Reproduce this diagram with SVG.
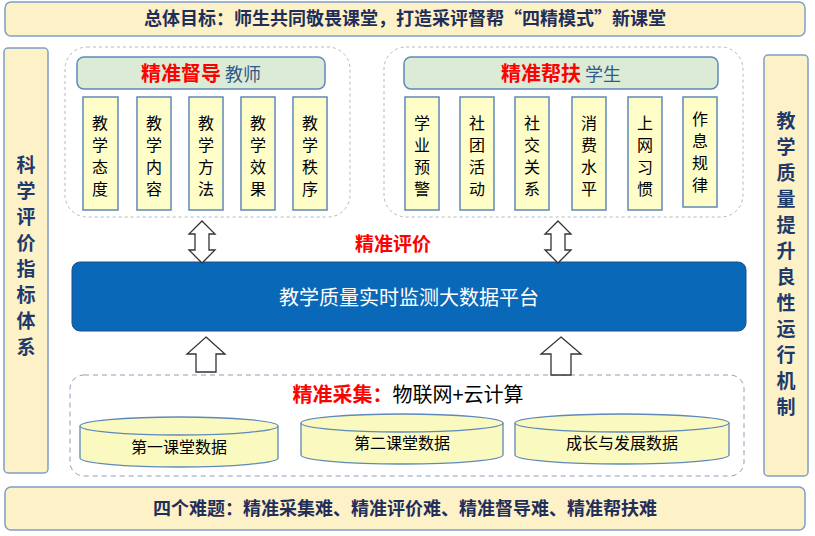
<svg xmlns="http://www.w3.org/2000/svg" width="815" height="536" viewBox="0 0 815 536">
<style>
text{font-family:"Noto Sans CJK SC","Liberation Sans",sans-serif}
.ban{fill:#fdf1c8;stroke:#7f9fc6;stroke-width:1.5}
.bt{font-size:18px;font-weight:bold;fill:#1f2f5a}
.side{font-size:19px;font-weight:bold;fill:#1f3a6a}
.grp{fill:#fff;stroke:#b8b8b8;stroke-dasharray:3,3}
.hd{fill:#dcebd6;stroke:#5f89b8;stroke-width:1.5}
.it{fill:#fffdc8;stroke:#5f89b8;stroke-width:1.5}
.itx{font-size:16px;fill:#000}
.red{fill:#ff0000;font-weight:bold}
.arr{fill:#fff;stroke:#333;stroke-width:1.3}
.cyl{fill:#fafac0;stroke:#5f89b8;stroke-width:1.3}
</style>
<g id="top"><rect class="ban" x="5" y="2" width="800" height="34" rx="6"/><text class="bt" x="405" y="25" text-anchor="middle">总体目标：师生共同敬畏课堂，打造采评督帮“四精模式”新课堂</text></g>
<g id="bottom"><rect class="ban" x="5" y="487" width="800" height="43" rx="6"/><text class="bt" x="405" y="515" text-anchor="middle">四个难题：精准采集难、精准评价难、精准督导难、精准帮扶难</text></g>
<g id="left"><rect class="ban" x="4" y="48" width="44" height="425" rx="4"/>
<text class="side" x="26" text-anchor="middle"><tspan x="26" y="172">科</tspan><tspan x="26" y="198">学</tspan><tspan x="26" y="224">评</tspan><tspan x="26" y="250">价</tspan><tspan x="26" y="276">指</tspan><tspan x="26" y="302">标</tspan><tspan x="26" y="328">体</tspan><tspan x="26" y="354">系</tspan></text></g>
<g id="right"><rect class="ban" x="764" y="55" width="44" height="421" rx="4"/>
<text class="side" x="786" text-anchor="middle"><tspan x="786" y="128">教</tspan><tspan x="786" y="154">学</tspan><tspan x="786" y="180">质</tspan><tspan x="786" y="206">量</tspan><tspan x="786" y="232">提</tspan><tspan x="786" y="258">升</tspan><tspan x="786" y="284">良</tspan><tspan x="786" y="310">性</tspan><tspan x="786" y="336">运</tspan><tspan x="786" y="362">行</tspan><tspan x="786" y="388">机</tspan><tspan x="786" y="414">制</tspan></text></g>
<g id="supervise">
<rect class="grp" x="65" y="47" width="285" height="170" rx="22"/>
<rect class="hd" x="77" y="57" width="248" height="32" rx="7"/>
<text x="201" y="81" text-anchor="middle" font-size="20"><tspan class="red">精准督导</tspan><tspan fill="#2f5a8a" font-size="18"> 教师</tspan></text>
<rect class="it" x="83" y="97" width="35" height="113"/><rect class="it" x="137" y="97" width="34" height="113"/><rect class="it" x="189" y="97" width="34" height="113"/><rect class="it" x="241" y="97" width="34" height="113"/><rect class="it" x="293" y="97" width="34" height="113"/>
<text class="itx" text-anchor="middle"><tspan x="100" y="129">教</tspan><tspan x="100" y="151">学</tspan><tspan x="100" y="173">态</tspan><tspan x="100" y="195">度</tspan></text>
<text class="itx" text-anchor="middle"><tspan x="154" y="129">教</tspan><tspan x="154" y="151">学</tspan><tspan x="154" y="173">内</tspan><tspan x="154" y="195">容</tspan></text>
<text class="itx" text-anchor="middle"><tspan x="206" y="129">教</tspan><tspan x="206" y="151">学</tspan><tspan x="206" y="173">方</tspan><tspan x="206" y="195">法</tspan></text>
<text class="itx" text-anchor="middle"><tspan x="258" y="129">教</tspan><tspan x="258" y="151">学</tspan><tspan x="258" y="173">效</tspan><tspan x="258" y="195">果</tspan></text>
<text class="itx" text-anchor="middle"><tspan x="310" y="129">教</tspan><tspan x="310" y="151">学</tspan><tspan x="310" y="173">秩</tspan><tspan x="310" y="195">序</tspan></text>
</g>
<g id="help">
<rect class="grp" x="384" y="47" width="359" height="170" rx="22"/>
<rect class="hd" x="404" y="57" width="314" height="32" rx="7"/>
<text x="561" y="81" text-anchor="middle" font-size="20"><tspan class="red">精准帮扶</tspan><tspan fill="#2f5a8a" font-size="18"> 学生</tspan></text>
<rect class="it" x="405" y="97" width="34" height="113"/><rect class="it" x="460" y="97" width="34" height="113"/><rect class="it" x="515" y="97" width="34" height="113"/><rect class="it" x="572" y="97" width="34" height="113"/><rect class="it" x="628" y="97" width="34" height="113"/><rect class="it" x="683" y="97" width="34" height="110"/>
<text class="itx" text-anchor="middle"><tspan x="422" y="129">学</tspan><tspan x="422" y="151">业</tspan><tspan x="422" y="173">预</tspan><tspan x="422" y="195">警</tspan></text>
<text class="itx" text-anchor="middle"><tspan x="477" y="129">社</tspan><tspan x="477" y="151">团</tspan><tspan x="477" y="173">活</tspan><tspan x="477" y="195">动</tspan></text>
<text class="itx" text-anchor="middle"><tspan x="532" y="129">社</tspan><tspan x="532" y="151">交</tspan><tspan x="532" y="173">关</tspan><tspan x="532" y="195">系</tspan></text>
<text class="itx" text-anchor="middle"><tspan x="589" y="129">消</tspan><tspan x="589" y="151">费</tspan><tspan x="589" y="173">水</tspan><tspan x="589" y="195">平</tspan></text>
<text class="itx" text-anchor="middle"><tspan x="645" y="129">上</tspan><tspan x="645" y="151">网</tspan><tspan x="645" y="173">习</tspan><tspan x="645" y="195">惯</tspan></text>
<text class="itx" text-anchor="middle"><tspan x="700" y="125">作</tspan><tspan x="700" y="147">息</tspan><tspan x="700" y="169">规</tspan><tspan x="700" y="191">律</tspan></text>
</g>
<g id="platform">
<rect x="72" y="262" width="674" height="69" rx="8" fill="#0a68b8" stroke="#1f4f8a"/>
<text x="409" y="305" text-anchor="middle" font-size="20" fill="#fff">教学质量实时监测大数据平台</text>
<text x="393" y="251" text-anchor="middle" font-size="19" class="red">精准评价</text>
</g>
<g id="collect">
<rect x="70" y="375" width="674" height="101" rx="14" fill="#fff" stroke="#8aa0b8" stroke-dasharray="5,4"/>
<text x="408" y="402" text-anchor="middle" font-size="20"><tspan class="red">精准采集：</tspan><tspan fill="#000">物联网+云计算</tspan></text>
<path class="cyl" d="M80,426 v32 a99,9 0 0 0 198,0 v-32"/><ellipse class="cyl" cx="179" cy="426" rx="99" ry="9"/>
<path class="cyl" d="M301,423 v32 a101,9 0 0 0 202,0 v-32"/><ellipse class="cyl" cx="402" cy="423" rx="101" ry="9"/>
<path class="cyl" d="M515,423 v32 a107,9 0 0 0 214,0 v-32"/><ellipse class="cyl" cx="622" cy="423" rx="107" ry="9"/>
<text x="179" y="453" text-anchor="middle" font-size="16">第一课堂数据</text>
<text x="402" y="449" text-anchor="middle" font-size="16">第二课堂数据</text>
<text x="622" y="449" text-anchor="middle" font-size="16">成长与发展数据</text>
</g>
<g id="connectors">
<path class="arr" d="M202,221 l13,13 h-6 v16 h6 l-13,13 l-13,-13 h6 v-16 h-6 z"/>
<path class="arr" d="M558,221 l13,13 h-6 v16 h6 l-13,13 l-13,-13 h6 v-16 h-6 z"/>
<path class="arr" d="M206,337 l19,17 h-9 v18 h-20 v-18 h-9 z"/>
<path class="arr" d="M561,337 l20,17 h-10 v21 h-20 v-21 h-10 z"/>
</g>
</svg>
